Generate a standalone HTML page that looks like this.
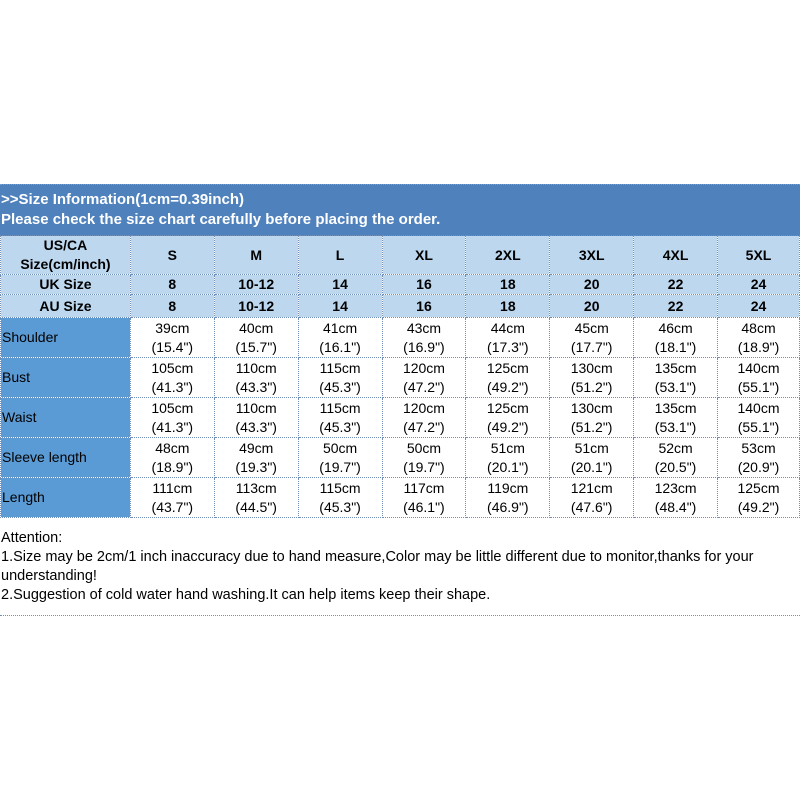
<!DOCTYPE html>
<html><head><meta charset="utf-8"><style>
body{margin:0;width:800px;height:800px;background:#fff;position:relative;font-family:"Liberation Sans",Arial,sans-serif;overflow:hidden}
.band{position:absolute;left:0;top:184px;width:800px;height:51px;background:#4f81bd;color:#fff;font-weight:bold;font-size:15px;border-top:1px dotted #7a9cc8}
.band div{position:absolute;left:1px}
table{position:absolute;left:0;top:235px;border-collapse:collapse;table-layout:fixed}
td{padding:0;text-align:center;border:1px dotted #6f8fb8;font-size:14px;line-height:19px;color:#000;overflow:hidden}
tr.h td{background:#bdd7ee;font-weight:bold}
td.l{background:#5b9bd5;text-align:left;padding-left:1px}
.att{position:absolute;left:1px;top:529px;font-size:14.5px;line-height:19px;color:#000;width:799px}
.dl{position:absolute;left:0;top:615px;width:800px;border-top:1px dotted #6f8fb8}
</style></head><body>
<div class="band"><div style="top:6px">&gt;&gt;Size Information(1cm=0.39inch)</div><div style="top:26px">Please check the size chart carefully before placing the order.</div></div>
<table>
<colgroup><col style="width:130px"><col style="width:84px"><col style="width:84px"><col style="width:84px"><col style="width:84px"><col style="width:84px"><col style="width:84px"><col style="width:84px"><col style="width:82px"></colgroup>
<tr class="h" style="height:38px"><td>US/CA<br>Size(cm/inch)</td><td>S</td><td>M</td><td>L</td><td>XL</td><td>2XL</td><td>3XL</td><td>4XL</td><td>5XL</td></tr>
<tr class="h" style="height:20px"><td>UK Size</td><td>8</td><td>10-12</td><td>14</td><td>16</td><td>18</td><td>20</td><td>22</td><td>24</td></tr>
<tr class="h" style="height:23px"><td>AU Size</td><td>8</td><td>10-12</td><td>14</td><td>16</td><td>18</td><td>20</td><td>22</td><td>24</td></tr>
<tr style="height:40px"><td class="l">Shoulder</td><td>39cm<br>(15.4")</td><td>40cm<br>(15.7")</td><td>41cm<br>(16.1")</td><td>43cm<br>(16.9")</td><td>44cm<br>(17.3")</td><td>45cm<br>(17.7")</td><td>46cm<br>(18.1")</td><td>48cm<br>(18.9")</td></tr>
<tr style="height:40px"><td class="l">Bust</td><td>105cm<br>(41.3")</td><td>110cm<br>(43.3")</td><td>115cm<br>(45.3")</td><td>120cm<br>(47.2")</td><td>125cm<br>(49.2")</td><td>130cm<br>(51.2")</td><td>135cm<br>(53.1")</td><td>140cm<br>(55.1")</td></tr>
<tr style="height:40px"><td class="l">Waist</td><td>105cm<br>(41.3")</td><td>110cm<br>(43.3")</td><td>115cm<br>(45.3")</td><td>120cm<br>(47.2")</td><td>125cm<br>(49.2")</td><td>130cm<br>(51.2")</td><td>135cm<br>(53.1")</td><td>140cm<br>(55.1")</td></tr>
<tr style="height:40px"><td class="l">Sleeve length</td><td>48cm<br>(18.9")</td><td>49cm<br>(19.3")</td><td>50cm<br>(19.7")</td><td>50cm<br>(19.7")</td><td>51cm<br>(20.1")</td><td>51cm<br>(20.1")</td><td>52cm<br>(20.5")</td><td>53cm<br>(20.9")</td></tr>
<tr style="height:40px"><td class="l">Length</td><td>111cm<br>(43.7")</td><td>113cm<br>(44.5")</td><td>115cm<br>(45.3")</td><td>117cm<br>(46.1")</td><td>119cm<br>(46.9")</td><td>121cm<br>(47.6")</td><td>123cm<br>(48.4")</td><td>125cm<br>(49.2")</td></tr>
</table>
<div class="att">Attention:<br>1.Size may be 2cm/1 inch inaccuracy due to hand measure,Color may be little different due to monitor,thanks for your understanding!<br>2.Suggestion of cold water hand washing.It can help items keep their shape.</div>
<div class="dl"></div>
</body></html>
